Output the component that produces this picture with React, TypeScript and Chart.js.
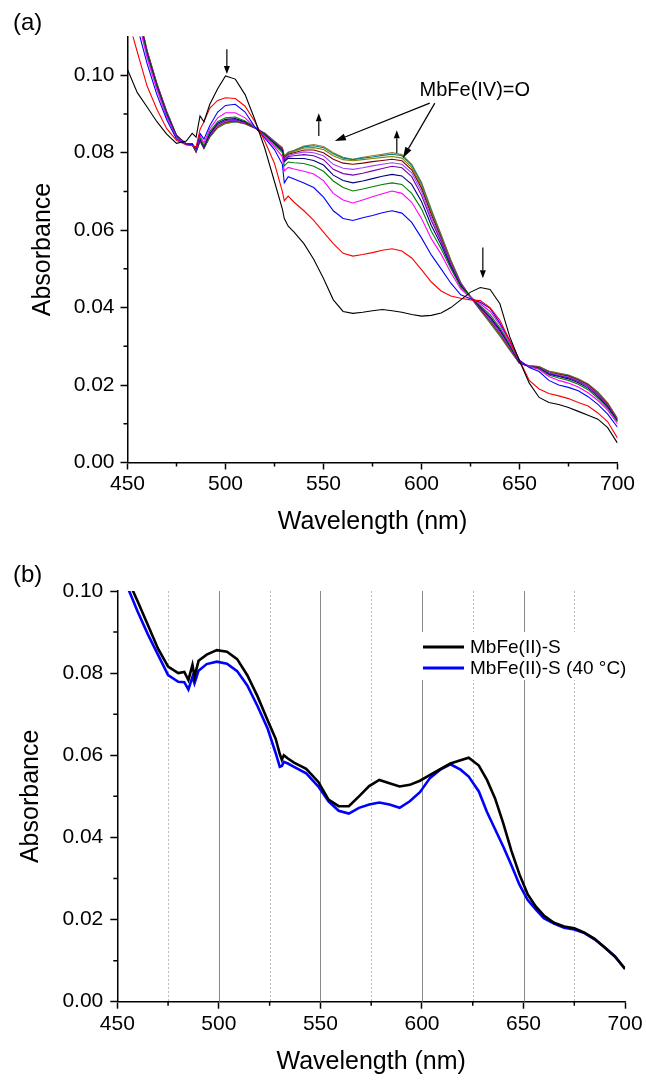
import React, { useEffect, useRef } from 'react';
import { Chart, registerables } from 'chart.js';

Chart.register(...registerables);

const FONT = '"Liberation Sans", Arial, Helvetica, sans-serif';

// ---------------- Panel (a) data ----------------
const wavelengthsA = [450, 455, 460, 465, 470, 475, 480, 483, 485, 487, 489, 492, 496, 500, 505, 510, 515, 520, 525, 529, 530, 532, 535, 540, 545, 550, 555, 560, 565, 570, 575, 580, 585, 590, 595, 600, 605, 610, 615, 620, 625, 630, 635, 640, 645, 650, 655, 660, 665, 670, 675, 680, 685, 690, 695, 700];

const absA0 = [0.1015, 0.0955, 0.0918, 0.0880, 0.0848, 0.0824, 0.0830, 0.0850, 0.0840, 0.0895, 0.0880, 0.0925, 0.0965, 0.0998, 0.0990, 0.0950, 0.0885, 0.0812, 0.0725, 0.0655, 0.0630, 0.0610, 0.0595, 0.0565, 0.0525, 0.0475, 0.0420, 0.0390, 0.0385, 0.0388, 0.0392, 0.0395, 0.0392, 0.0388, 0.0382, 0.0378, 0.0380, 0.0386, 0.0400, 0.0420, 0.0440, 0.0452, 0.0447, 0.0410, 0.0325, 0.0262, 0.0205, 0.0168, 0.0155, 0.0150, 0.0142, 0.0132, 0.0122, 0.0112, 0.0090, 0.0050];
const absA1 = [0.1150, 0.1060, 0.0972, 0.0912, 0.0862, 0.0832, 0.0820, 0.0818, 0.0815, 0.0860, 0.0880, 0.0915, 0.0935, 0.0942, 0.0940, 0.0920, 0.0880, 0.0830, 0.0772, 0.0700, 0.0676, 0.0688, 0.0672, 0.0650, 0.0625, 0.0595, 0.0565, 0.0540, 0.0533, 0.0537, 0.0542, 0.0548, 0.0552, 0.0546, 0.0528, 0.0498, 0.0466, 0.0443, 0.0430, 0.0424, 0.0420, 0.0418, 0.0400, 0.0367, 0.0315, 0.0264, 0.0212, 0.0190, 0.0178, 0.0172, 0.0165, 0.0155, 0.0146, 0.0128, 0.0105, 0.0063];
const absA2 = [0.1250, 0.1125, 0.1030, 0.0950, 0.0885, 0.0835, 0.0822, 0.0822, 0.0810, 0.0850, 0.0835, 0.0870, 0.0905, 0.0922, 0.0925, 0.0905, 0.0866, 0.0838, 0.0808, 0.0770, 0.0722, 0.0738, 0.0732, 0.0722, 0.0710, 0.0685, 0.0650, 0.0630, 0.0625, 0.0632, 0.0638, 0.0645, 0.0650, 0.0644, 0.0620, 0.0580, 0.0536, 0.0500, 0.0463, 0.0433, 0.0423, 0.0414, 0.0398, 0.0360, 0.0315, 0.0264, 0.0245, 0.0235, 0.0212, 0.0200, 0.0194, 0.0185, 0.0170, 0.0150, 0.0125, 0.0091];
const absA3 = [0.1280, 0.1150, 0.1045, 0.0962, 0.0892, 0.0838, 0.0822, 0.0822, 0.0808, 0.0845, 0.0825, 0.0862, 0.0890, 0.0903, 0.0903, 0.0890, 0.0865, 0.0842, 0.0815, 0.0790, 0.0753, 0.0762, 0.0758, 0.0752, 0.0745, 0.0728, 0.0695, 0.0678, 0.0670, 0.0678, 0.0686, 0.0694, 0.0701, 0.0695, 0.0672, 0.0630, 0.0578, 0.0538, 0.0490, 0.0448, 0.0426, 0.0410, 0.0390, 0.0355, 0.0310, 0.0262, 0.0248, 0.0240, 0.0222, 0.0212, 0.0205, 0.0195, 0.0180, 0.0160, 0.0135, 0.0100];
const absA4 = [0.1290, 0.1160, 0.1052, 0.0968, 0.0897, 0.0840, 0.0822, 0.0822, 0.0806, 0.0840, 0.0818, 0.0855, 0.0880, 0.0890, 0.0892, 0.0882, 0.0866, 0.0845, 0.0820, 0.0800, 0.0766, 0.0776, 0.0774, 0.0772, 0.0765, 0.0752, 0.0727, 0.0710, 0.0701, 0.0706, 0.0712, 0.0718, 0.0722, 0.0718, 0.0695, 0.0655, 0.0597, 0.0552, 0.0500, 0.0453, 0.0428, 0.0405, 0.0382, 0.0348, 0.0305, 0.0260, 0.0248, 0.0242, 0.0226, 0.0218, 0.0212, 0.0202, 0.0188, 0.0166, 0.0140, 0.0105];
const absA5 = [0.1295, 0.1165, 0.1056, 0.0972, 0.0900, 0.0842, 0.0822, 0.0822, 0.0805, 0.0836, 0.0815, 0.0850, 0.0876, 0.0886, 0.0888, 0.0880, 0.0866, 0.0847, 0.0823, 0.0805, 0.0776, 0.0786, 0.0785, 0.0785, 0.0780, 0.0768, 0.0742, 0.0728, 0.0722, 0.0727, 0.0733, 0.0739, 0.0744, 0.0740, 0.0718, 0.0674, 0.0612, 0.0562, 0.0505, 0.0456, 0.0428, 0.0402, 0.0376, 0.0343, 0.0302, 0.0258, 0.0248, 0.0243, 0.0228, 0.0222, 0.0216, 0.0206, 0.0192, 0.0170, 0.0143, 0.0107];
const absA6 = [0.1300, 0.1168, 0.1058, 0.0974, 0.0902, 0.0843, 0.0822, 0.0822, 0.0804, 0.0834, 0.0813, 0.0847, 0.0873, 0.0883, 0.0885, 0.0878, 0.0865, 0.0848, 0.0825, 0.0808, 0.0780, 0.0790, 0.0792, 0.0795, 0.0792, 0.0782, 0.0757, 0.0746, 0.0742, 0.0747, 0.0753, 0.0759, 0.0765, 0.0761, 0.0738, 0.0690, 0.0625, 0.0570, 0.0510, 0.0458, 0.0428, 0.0400, 0.0372, 0.0340, 0.0300, 0.0257, 0.0248, 0.0244, 0.0230, 0.0224, 0.0219, 0.0209, 0.0196, 0.0174, 0.0146, 0.0108];
const absA7 = [0.1302, 0.1170, 0.1060, 0.0975, 0.0903, 0.0843, 0.0822, 0.0822, 0.0803, 0.0833, 0.0812, 0.0845, 0.0870, 0.0881, 0.0883, 0.0877, 0.0865, 0.0849, 0.0826, 0.0809, 0.0783, 0.0793, 0.0797, 0.0802, 0.0800, 0.0792, 0.0770, 0.0760, 0.0757, 0.0761, 0.0766, 0.0770, 0.0774, 0.0770, 0.0748, 0.0700, 0.0633, 0.0575, 0.0513, 0.0460, 0.0427, 0.0398, 0.0369, 0.0336, 0.0297, 0.0256, 0.0248, 0.0245, 0.0232, 0.0226, 0.0221, 0.0211, 0.0198, 0.0176, 0.0148, 0.0110];
const absA8 = [0.1304, 0.1172, 0.1061, 0.0976, 0.0904, 0.0844, 0.0822, 0.0822, 0.0803, 0.0832, 0.0812, 0.0843, 0.0868, 0.0879, 0.0882, 0.0876, 0.0864, 0.0849, 0.0827, 0.0810, 0.0786, 0.0796, 0.0800, 0.0807, 0.0807, 0.0800, 0.0783, 0.0773, 0.0770, 0.0773, 0.0777, 0.0780, 0.0783, 0.0779, 0.0756, 0.0708, 0.0640, 0.0580, 0.0516, 0.0462, 0.0427, 0.0396, 0.0366, 0.0333, 0.0295, 0.0256, 0.0249, 0.0246, 0.0233, 0.0228, 0.0223, 0.0213, 0.0200, 0.0178, 0.0150, 0.0111];
const absA9 = [0.1305, 0.1173, 0.1062, 0.0977, 0.0905, 0.0844, 0.0822, 0.0822, 0.0802, 0.0831, 0.0811, 0.0842, 0.0866, 0.0877, 0.0881, 0.0875, 0.0864, 0.0850, 0.0828, 0.0811, 0.0788, 0.0798, 0.0803, 0.0812, 0.0813, 0.0808, 0.0792, 0.0782, 0.0779, 0.0782, 0.0785, 0.0788, 0.0790, 0.0786, 0.0762, 0.0714, 0.0645, 0.0583, 0.0519, 0.0463, 0.0427, 0.0395, 0.0364, 0.0330, 0.0293, 0.0256, 0.0249, 0.0247, 0.0234, 0.0229, 0.0224, 0.0214, 0.0201, 0.0180, 0.0152, 0.0112];
const absA10 = [0.1306, 0.1174, 0.1063, 0.0978, 0.0906, 0.0845, 0.0822, 0.0822, 0.0802, 0.0830, 0.0811, 0.0841, 0.0865, 0.0876, 0.0880, 0.0875, 0.0864, 0.0850, 0.0829, 0.0812, 0.0790, 0.0800, 0.0805, 0.0815, 0.0818, 0.0813, 0.0797, 0.0786, 0.0782, 0.0786, 0.0789, 0.0793, 0.0796, 0.0792, 0.0768, 0.0720, 0.0650, 0.0586, 0.0521, 0.0464, 0.0427, 0.0394, 0.0362, 0.0328, 0.0292, 0.0256, 0.0250, 0.0248, 0.0235, 0.0230, 0.0225, 0.0215, 0.0202, 0.0181, 0.0153, 0.0113];
const absA11 = [0.1307, 0.1175, 0.1064, 0.0979, 0.0907, 0.0845, 0.0822, 0.0822, 0.0801, 0.0830, 0.0811, 0.0840, 0.0864, 0.0875, 0.0880, 0.0874, 0.0864, 0.0850, 0.0830, 0.0813, 0.0792, 0.0802, 0.0806, 0.0817, 0.0821, 0.0816, 0.0800, 0.0788, 0.0783, 0.0788, 0.0792, 0.0796, 0.0800, 0.0795, 0.0770, 0.0724, 0.0654, 0.0589, 0.0523, 0.0465, 0.0427, 0.0393, 0.0360, 0.0326, 0.0290, 0.0256, 0.0250, 0.0248, 0.0236, 0.0231, 0.0226, 0.0216, 0.0203, 0.0182, 0.0154, 0.0114];

const seriesA = [absA0, absA1, absA2, absA3, absA4, absA5, absA6, absA7, absA8, absA9, absA10, absA11];
const colorsA = ['#000000', '#ff0000', '#0000ff', '#ff00ff', '#008000', '#000080', '#7a00b0', '#a040ff', '#800000', '#808000', '#008080', '#a07830'];

// ---------------- Panel (b) data ----------------
const wavelengthsB = [450, 455, 460, 465, 470, 475, 480, 483, 485, 487, 488, 490, 494, 499, 504, 509, 514, 519, 524, 528, 530, 531, 532, 534, 537, 543, 549, 554, 559, 564, 569, 574, 579, 584, 589, 594, 599, 604, 609, 614, 619, 623, 628, 632, 636, 640, 644, 648, 652, 656, 660, 665, 670, 675, 680, 685, 690, 695, 700];
const absB_S = [0.1090, 0.1030, 0.0975, 0.0918, 0.0860, 0.0816, 0.0800, 0.0803, 0.0783, 0.0820, 0.0791, 0.0830, 0.0845, 0.0856, 0.0852, 0.0834, 0.0795, 0.0744, 0.0685, 0.0640, 0.0603, 0.0589, 0.0600, 0.0592, 0.0582, 0.0567, 0.0535, 0.0492, 0.0476, 0.0476, 0.0500, 0.0525, 0.0540, 0.0532, 0.0524, 0.0528, 0.0538, 0.0552, 0.0566, 0.0580, 0.0588, 0.0594, 0.0575, 0.0540, 0.0495, 0.0435, 0.0368, 0.0310, 0.0262, 0.0232, 0.0210, 0.0192, 0.0183, 0.0179, 0.0168, 0.0153, 0.0132, 0.0110, 0.0080];
const absB_S40 = [0.1070, 0.1010, 0.0950, 0.0895, 0.0845, 0.0795, 0.0779, 0.0778, 0.0760, 0.0791, 0.0775, 0.0806, 0.0822, 0.0828, 0.0823, 0.0805, 0.0770, 0.0720, 0.0665, 0.0605, 0.0572, 0.0574, 0.0584, 0.0580, 0.0572, 0.0556, 0.0524, 0.0488, 0.0465, 0.0458, 0.0472, 0.0480, 0.0485, 0.0480, 0.0472, 0.0488, 0.0510, 0.0545, 0.0565, 0.0578, 0.0565, 0.0548, 0.0512, 0.0462, 0.0420, 0.0378, 0.0333, 0.0285, 0.0248, 0.0225, 0.0203, 0.0190, 0.0180, 0.0176, 0.0167, 0.0152, 0.0132, 0.0110, 0.0080];
const labelsB = ['MbFe(II)-S', 'MbFe(II)-S (40 \u00B0C)'];
const colorsB = ['#000000', '#0000ff'];

// ---------------- Ticks ----------------
const xMajorTicks = [450, 500, 550, 600, 650, 700];
const xMinorTicks = [475, 525, 575, 625, 675];
const xGridMajorB = [500, 550, 600, 650];
const yMajorTicks = [0, 0.02, 0.04, 0.06, 0.08, 0.1];
const yMinorTicks = [0.01, 0.03, 0.05, 0.07, 0.09];

// ---------------- Annotations (data units) for panel (a) ----------------
const annotationTextA = 'MbFe(IV)=O';
const annotationTextPosA = [627.2, 0.0946];
const shortArrowsA = [
  [500.7, 0.1067, 500.7, 0.1003],
  [547.6, 0.0843, 547.6, 0.0902],
  [587.4, 0.0799, 587.4, 0.0858],
  [631.3, 0.0555, 631.3, 0.0476],
];
const longArrowsA = [
  [604.2, 0.0928, 555.8, 0.0830],
  [606.8, 0.0928, 590.5, 0.0786],
];

function drawArrow(ctx: CanvasRenderingContext2D, x1: number, y1: number, x2: number, y2: number, headLen: number, headHalf: number, lw: number) {
  const ang = Math.atan2(y2 - y1, x2 - x1);
  const bx = x2 - headLen * Math.cos(ang);
  const by = y2 - headLen * Math.sin(ang);
  ctx.lineWidth = lw;
  ctx.beginPath();
  ctx.moveTo(x1, y1);
  ctx.lineTo(bx, by);
  ctx.stroke();
  ctx.beginPath();
  ctx.moveTo(x2, y2);
  ctx.lineTo(bx + headHalf * Math.sin(ang), by - headHalf * Math.cos(ang));
  ctx.lineTo(bx - headHalf * Math.sin(ang), by + headHalf * Math.cos(ang));
  ctx.closePath();
  ctx.fill();
}

function drawMinorTicks(chart: any, xs: number[], ys: number[], len: number) {
  const { ctx, chartArea } = chart;
  const sx = chart.scales.x;
  const sy = chart.scales.y;
  ctx.save();
  ctx.strokeStyle = '#000';
  ctx.lineWidth = 1.5;
  ctx.beginPath();
  xs.forEach((v) => {
    const p = sx.getPixelForValue(v);
    ctx.moveTo(p, chartArea.bottom);
    ctx.lineTo(p, chartArea.bottom + len);
  });
  ys.forEach((v) => {
    const p = sy.getPixelForValue(v);
    ctx.moveTo(chartArea.left, p);
    ctx.lineTo(chartArea.left - len, p);
  });
  ctx.stroke();
  ctx.restore();
}

function makeScales(opts: {
  yMax: number;
  yWidth: number;
  xHeight: number;
  yTitlePad: number;
  xTitlePad: number;
  yTickPad: number;
  xTickPad: number;
}) {
  return {
    x: {
      type: 'linear',
      min: 450,
      max: 700,
      afterBuildTicks: (s: any) => {
        s.ticks = xMajorTicks.map((v) => ({ value: v }));
      },
      afterFit: (s: any) => {
        s.height = opts.xHeight;
      },
      ticks: {
        font: { family: FONT, size: 21 },
        color: '#000',
        padding: opts.xTickPad,
        maxRotation: 0,
        autoSkip: false,
        callback: (v: any) => String(v),
      },
      grid: { drawOnChartArea: false, drawTicks: true, tickLength: 7, tickColor: '#000', tickWidth: 1.5 },
      border: { display: true, color: '#000', width: 1.5 },
      title: {
        display: true,
        text: 'Wavelength (nm)',
        color: '#000',
        font: { family: FONT, size: 25 },
        padding: { top: 0, bottom: opts.xTitlePad },
      },
    },
    y: {
      type: 'linear',
      min: 0,
      max: opts.yMax,
      afterBuildTicks: (s: any) => {
        s.ticks = yMajorTicks.map((v) => ({ value: v }));
      },
      afterFit: (s: any) => {
        s.width = opts.yWidth;
      },
      ticks: {
        font: { family: FONT, size: 21 },
        color: '#000',
        padding: opts.yTickPad,
        autoSkip: false,
        callback: (v: any) => Number(v).toFixed(2),
      },
      grid: { drawOnChartArea: false, drawTicks: true, tickLength: 7, tickColor: '#000', tickWidth: 1.5 },
      border: { display: true, color: '#000', width: 1.5 },
      title: {
        display: true,
        text: 'Absorbance',
        color: '#000',
        font: { family: FONT, size: 25 },
        padding: { top: opts.yTitlePad, bottom: 0 },
      },
    },
  };
}

function PanelA() {
  const ref = useRef<HTMLCanvasElement>(null);
  useEffect(() => {
    if (!ref.current) return;
    const plugin = {
      id: 'panelADecor',
      afterDraw(chart: any) {
        const { ctx } = chart;
        const sx = chart.scales.x;
        const sy = chart.scales.y;
        drawMinorTicks(chart, xMinorTicks, yMinorTicks, 4);
        ctx.save();
        ctx.fillStyle = '#000';
        ctx.strokeStyle = '#000';
        shortArrowsA.forEach((a) => {
          drawArrow(ctx, sx.getPixelForValue(a[0]), sy.getPixelForValue(a[1]), sx.getPixelForValue(a[2]), sy.getPixelForValue(a[3]), 8, 3, 1.2);
        });
        longArrowsA.forEach((a) => {
          drawArrow(ctx, sx.getPixelForValue(a[0]), sy.getPixelForValue(a[1]), sx.getPixelForValue(a[2]), sy.getPixelForValue(a[3]), 11, 3.5, 1.2);
        });
        ctx.font = `20px ${FONT}`;
        ctx.textAlign = 'center';
        ctx.textBaseline = 'alphabetic';
        ctx.fillText(annotationTextA, sx.getPixelForValue(annotationTextPosA[0]), sy.getPixelForValue(annotationTextPosA[1]));
        ctx.font = `24px ${FONT}`;
        ctx.textAlign = 'left';
        ctx.fillText('(a)', 13, 30);
        ctx.restore();
      },
    };
    const chart = new Chart(ref.current, {
      type: 'line',
      data: {
        datasets: seriesA.map((s, i) => ({
          label: `t${i}`,
          data: wavelengthsA.map((w, j) => ({ x: w, y: s[j] })),
          borderColor: colorsA[i],
          borderWidth: 1.1,
          pointRadius: 0,
          fill: false,
          tension: 0,
        })),
      },
      options: {
        responsive: false,
        animation: false,
        devicePixelRatio: 1,
        events: [],
        layout: { padding: { left: 0, right: 28.5, top: 36.5, bottom: 0 } },
        plugins: { legend: { display: false }, tooltip: { enabled: false } },
        scales: makeScales({ yMax: 0.11, yWidth: 127.5, xHeight: 82.5, yTitlePad: 28.3, xTitlePad: 7.7, yTickPad: 6, xTickPad: 2 }) as any,
      } as any,
      plugins: [plugin],
    } as any);
    return () => chart.destroy();
  }, []);
  return <canvas ref={ref} width={646} height={545} style={{ display: 'block', width: 646, height: 545 }} />;
}

function PanelB() {
  const ref = useRef<HTMLCanvasElement>(null);
  useEffect(() => {
    if (!ref.current) return;
    const plugin = {
      id: 'panelBDecor',
      beforeDatasetsDraw(chart: any) {
        const { ctx, chartArea } = chart;
        const sx = chart.scales.x;
        ctx.save();
        ctx.lineWidth = 1;
        ctx.strokeStyle = '#bdbdbd';
        ctx.setLineDash([2, 2]);
        ctx.beginPath();
        xMinorTicks.forEach((v) => {
          const p = Math.round(sx.getPixelForValue(v)) + 0.5;
          ctx.moveTo(p, chartArea.top);
          ctx.lineTo(p, chartArea.bottom);
        });
        ctx.stroke();
        ctx.setLineDash([]);
        ctx.strokeStyle = '#8a8a8a';
        ctx.beginPath();
        xGridMajorB.forEach((v) => {
          const p = Math.round(sx.getPixelForValue(v)) + 0.5;
          ctx.moveTo(p, chartArea.top);
          ctx.lineTo(p, chartArea.bottom);
        });
        ctx.stroke();
        ctx.restore();
      },
      afterDraw(chart: any) {
        const { ctx } = chart;
        drawMinorTicks(chart, xMinorTicks, yMinorTicks, 4);
        ctx.save();
        // legend
        ctx.fillStyle = '#ffffff';
        ctx.fillRect(417, 87, 214, 48);
        ctx.font = `19px ${FONT}`;
        ctx.textAlign = 'left';
        ctx.textBaseline = 'middle';
        chart.data.datasets.forEach((ds: any, i: number) => {
          const y = 102 + i * 21;
          ctx.strokeStyle = ds.borderColor;
          ctx.lineWidth = 3;
          ctx.beginPath();
          ctx.moveTo(423, y);
          ctx.lineTo(464, y);
          ctx.stroke();
          ctx.fillStyle = '#000';
          ctx.fillText(ds.label, 470, y + 1);
        });
        ctx.font = `24px ${FONT}`;
        ctx.textBaseline = 'alphabetic';
        ctx.fillStyle = '#000';
        ctx.fillText('(b)', 13, 37);
        ctx.restore();
      },
    };
    const chart = new Chart(ref.current, {
      type: 'line',
      data: {
        datasets: [absB_S, absB_S40].map((s, i) => ({
          label: labelsB[i],
          data: wavelengthsB.map((w, j) => ({ x: w, y: s[j] })),
          borderColor: colorsB[i],
          borderWidth: 2.6,
          pointRadius: 0,
          fill: false,
          tension: 0,
        })),
      },
      options: {
        responsive: false,
        animation: false,
        devicePixelRatio: 1,
        events: [],
        layout: { padding: { left: 0, right: 18.7, top: 46, bottom: 0 } },
        plugins: { legend: { display: false }, tooltip: { enabled: false } },
        scales: makeScales({ yMax: 0.1, yWidth: 117.3, xHeight: 78.3, yTitlePad: 16.3, xTitlePad: 3, yTickPad: 7, xTickPad: 3.4 }) as any,
      } as any,
      plugins: [plugin],
    } as any);
    return () => chart.destroy();
  }, []);
  return <canvas ref={ref} width={646} height={535} style={{ display: 'block', width: 646, height: 535 }} />;
}

export default function App() {
  return (
    <div style={{ position: 'absolute', left: 0, top: 0, width: 646, height: 1080, background: '#fff' }}>
      <PanelA />
      <PanelB />
    </div>
  );
}
